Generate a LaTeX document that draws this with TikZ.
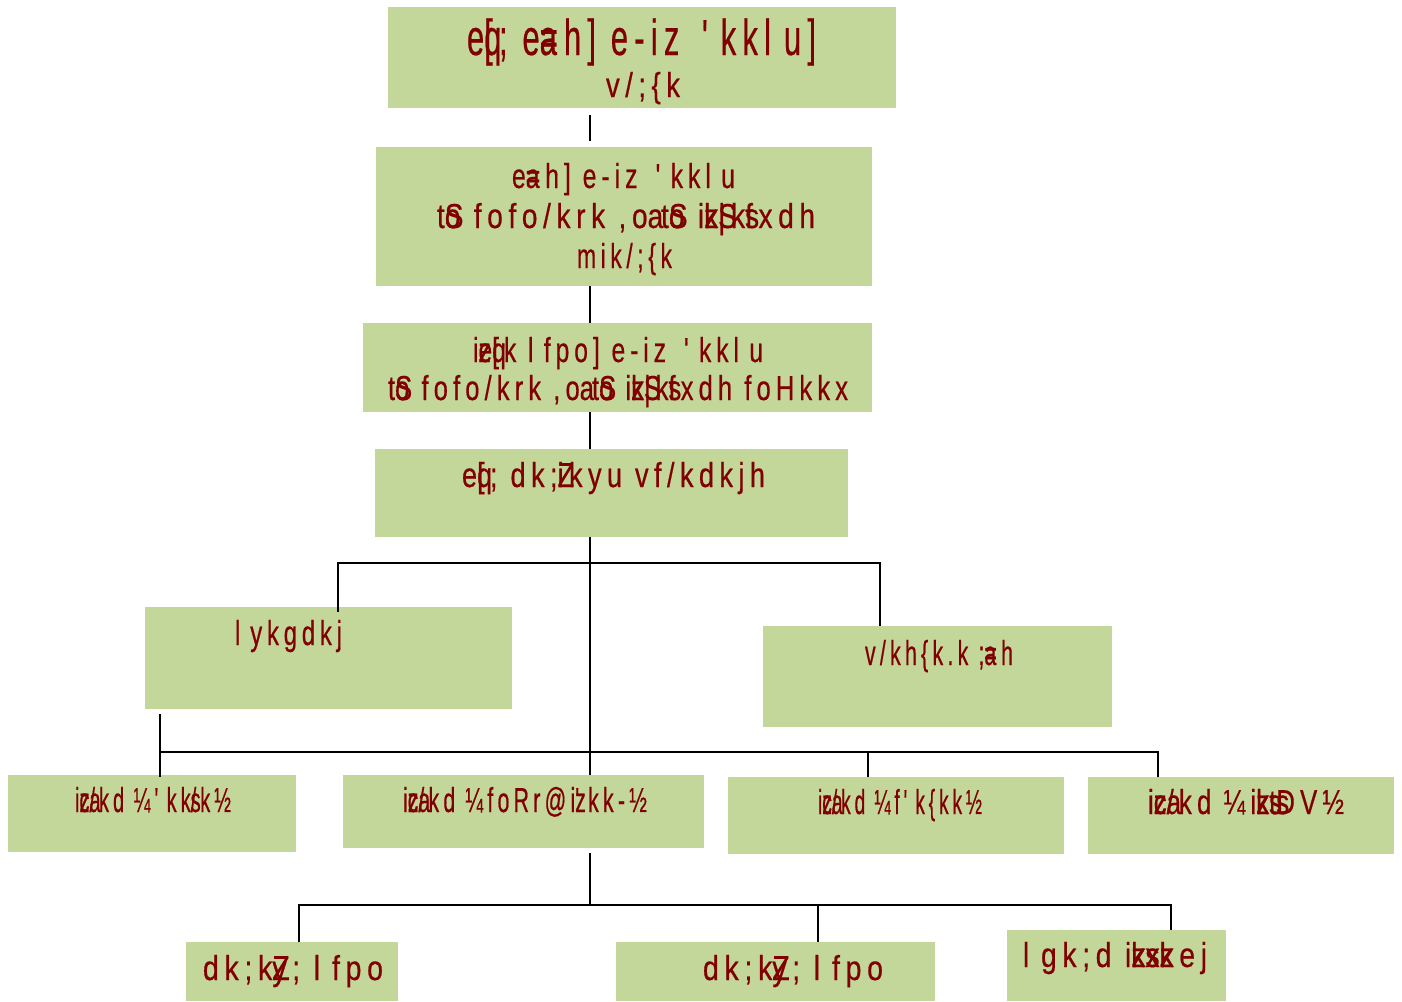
\documentclass[tikz,border=0pt]{standalone}
\usepackage{fontspec}
\setmainfont{Liberation Sans}[Ligatures=TeXOff, FakeStretch=0.6, LetterSpace=12, FakeBold=0.4]
\usepackage{graphicx}
\definecolor{boxgreen}{HTML}{C4D79B}
\definecolor{txtred}{HTML}{800000}
\newlength\pxu
\setlength\pxu{0.75pt}
\newcommand\zw[1]{\rlap{#1}}
\newcommand\ls{l\kern0.25em}
\newcommand\ap{'\kern0.25em}
\newcommand\bx[5]{\node[orgbox, minimum width={(#4-#2)*0.75pt}, minimum height={(#5-#3)*0.75pt}] (#1) at ({(#2+#4)/2},{(#3+#5)/2}) {};}
\newcommand\tx[6]{\node[orgtxt] (#1) at (#2,#3) {\fontsize{#4pt}{#4pt}\selectfont\resizebox{#5\pxu}{\height}{#6}};}
\begin{document}
\begin{tikzpicture}[x=0.75pt,y=-0.75pt,
  orgbox/.style={rectangle, fill=boxgreen, draw=none, inner sep=0pt, outer sep=0pt},
  orgtxt/.style={anchor=base, inner sep=0pt, outer sep=0pt, text=txtred},
  conn/.style={draw=black, line width=1.3pt}]
\useasboundingbox (0,0) rectangle (1402,1001);
% boxes
\bx{b1}{388}{7}{896}{108}
\bx{b2}{376}{147}{872}{286}
\bx{b3}{363}{323}{872}{412}
\bx{b4}{375}{449}{848}{537}
\bx{bL}{145}{607}{512}{709}
\bx{bR}{763}{626}{1112}{727}
\bx{bA}{8}{775}{296}{852}
\bx{bB}{343}{775}{704}{848}
\bx{bC}{728}{777}{1064}{854}
\bx{bD}{1088}{777}{1394}{854}
\bx{bE}{186}{942}{398}{1001}
\bx{bF}{616}{942}{935}{1001}
\bx{bG}{1007}{930}{1226}{1001}
% texts
\tx{t1a}{641.5}{55}{38}{349}{e\zw{q}[; e\zw{a}=h] e-iz\kern0.15em\ \ap kk\ls u]}
\tx{t1b}{643}{97}{26}{74}{v/;\{k}
\tx{t2a}{623.5}{188}{26}{223}{e\zw{a}=h] e-iz\kern0.15em\ \ap kk\ls u}
\tx{t2b}{626}{228}{26}{378}{t\zw{S}o fofo/krk ,o\zw{a} t\zw{S}o i\zw{z}k\zw{S}|k\zw{s}fxdh}
\tx{t2c}{624.5}{268}{26}{95}{mik/;\{k}
\tx{t3a}{618}{362}{26}{290}{i\zw{z}e\zw{q}[k \ls fpo] e-iz\kern0.15em\ \ap kk\ls u}
\tx{t3b}{618}{400}{26}{460}{t\zw{S}o fofo/krk ,o\zw{a} t\zw{S}o i\zw{z}k\zw{S}|k\zw{s}fxdh foHkkx}
\tx{t4}{613.5}{487}{26}{303}{e\zw{q}[; dk;\zw{Z}ikyu vf/kdkjh}
\tx{tL}{288.5}{645}{26}{107}{\ls ykgdkj}
\tx{tR}{939}{665}{26}{148}{v/kh\{k.k ;\zw{a}=h}
\tx{tA}{153}{812}{26}{156}{i\zw{z}c\zw{a}/kd ¼\ap kk\zw{s}/k½}
\tx{tB}{525}{812}{26}{244}{i\zw{z}c\zw{a}/kd ¼foRr@i\zw{z}\ap kk-½}
\tx{tC}{900}{814}{26}{164}{i\zw{z}c\zw{a}/kd ¼f\ap k\{kk½}
\tx{tD}{1246}{814}{26}{196}{i\zw{z}c\zw{a}/kd ¼i\zw{z}k\zw{s}t\zw{s}DV½}
\tx{tE}{293}{980}{26}{180}{dk;k\zw{Z}y; \ls fpo}
\tx{tF}{793}{980}{26}{180}{dk;k\zw{Z}y; \ls fpo}
\tx{tG}{1115}{967}{26}{184}{\ls gk;d i\zw{z}k\zw{s}x\zw{z}kej}
% connector points
\coordinate (p1a) at (590,115);
\coordinate (p1b) at (590,141);
\coordinate (p2a) at (590,286);
\coordinate (p2b) at (590,323);
\coordinate (p3a) at (590,412);
\coordinate (p3b) at (590,449);
\coordinate (p4a) at (590,537);
\coordinate (p4b) at (590,775);
\coordinate (hLd) at (338,612);
\coordinate (hLt) at (338,563);
\coordinate (hRt) at (880,563);
\coordinate (hRd) at (880,626);
\coordinate (lS) at (160,714);
\coordinate (aN) at (160,777);
\coordinate (h2L) at (160,752);
\coordinate (h2R) at (1158,752);
\coordinate (dN) at (1158,777);
\coordinate (cT) at (868,752);
\coordinate (cN) at (868,777);
\coordinate (bS) at (590,853);
\coordinate (h3) at (590,905);
\coordinate (eN) at (299,942);
\coordinate (h3L) at (299,905);
\coordinate (h3R) at (1171,905);
\coordinate (gN) at (1171,930);
\coordinate (fT) at (818,905);
\coordinate (fN) at (818,942);
% connectors
\draw[conn] (p1a) -- (p1b);
\draw[conn] (p2a) -- (p2b);
\draw[conn] (p3a) -- (p3b);
\draw[conn] (p4a) -- (p4b);
\draw[conn] (hLd) -- (hLt) -- (hRt) -- (hRd);
\draw[conn] (lS) -- (aN);
\draw[conn] (h2L) -- (h2R) -- (dN);
\draw[conn] (cT) -- (cN);
\draw[conn] (bS) -- (h3);
\draw[conn] (eN) -- (h3L) -- (h3R) -- (gN);
\draw[conn] (fT) -- (fN);
\end{tikzpicture}
\end{document}
